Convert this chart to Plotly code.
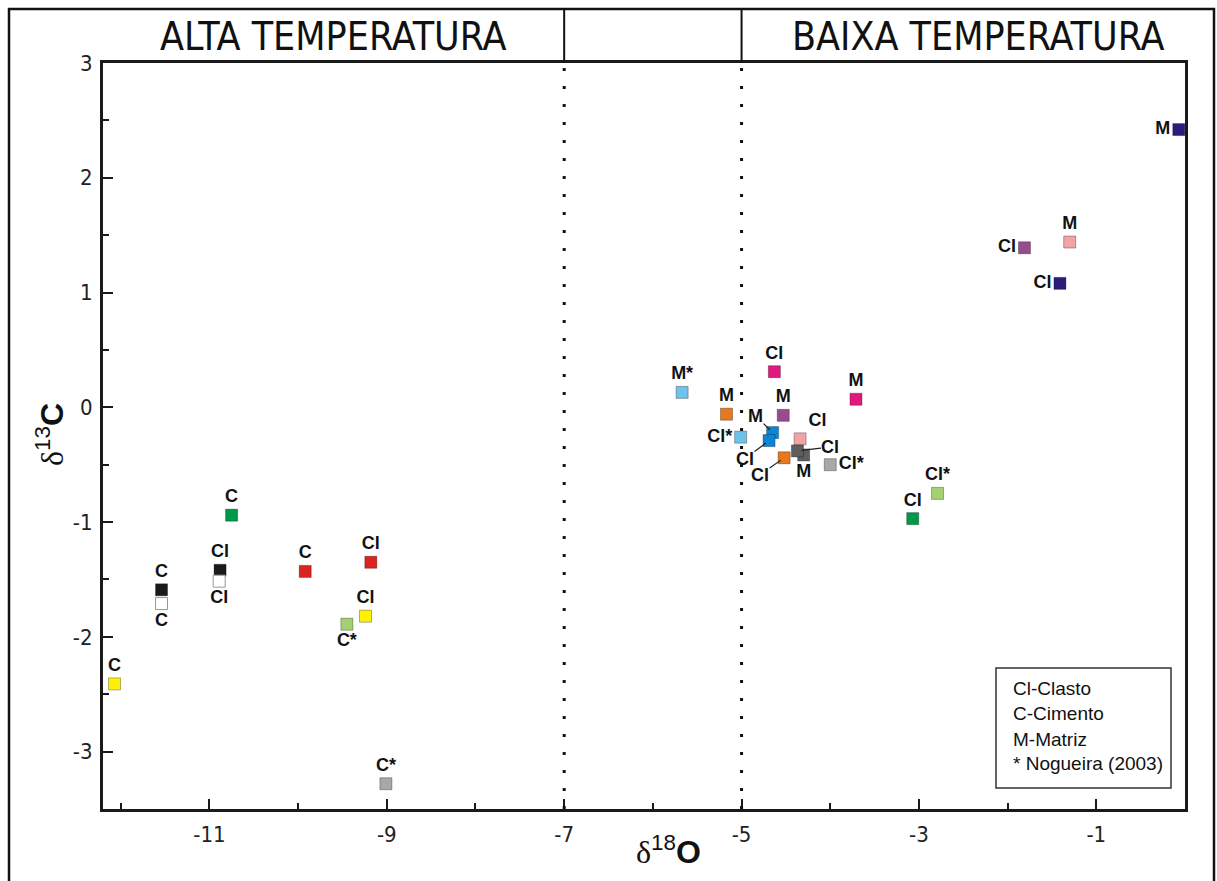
import plotly.graph_objects as go

# Isotope data: delta 18O (x) and delta 13C (y) per sample
d18O = [-12.07, -11.54, -11.54, -10.88, -10.89, -10.75, -9.92, -9.18, -9.24, -9.45, -9.01,
        -5.67, -4.63, -5.17, -4.53, -3.71, -5.01, -4.65, -4.69, -4.34, -4.37, -4.30, -4.52, -4.00,
        -2.79, -3.07, -1.81, -1.30, -1.41, -0.07]
d13C = [-2.41, -1.59, -1.71, -1.42, -1.515, -0.94, -1.43, -1.35, -1.82, -1.89, -3.28,
        0.13, 0.31, -0.06, -0.07, 0.07, -0.26, -0.22, -0.29, -0.275, -0.38, -0.415, -0.44, -0.50,
        -0.75, -0.97, 1.39, 1.44, 1.08, 2.42]
sample_type = ["C", "C", "C", "Cl", "Cl", "C", "C", "Cl", "Cl", "C*", "C*",
               "M*", "Cl", "M", "M", "M", "Cl*", "M", "Cl", "Cl", "Cl", "M", "Cl", "Cl*",
               "Cl*", "Cl", "Cl", "M", "Cl", "M"]

x_ticks = [-11, -9, -7, -5, -3, -1]
x_minor = [-12, -10, -8, -6, -4, -2, 0]
y_ticks = [-3, -2, -1, 0, 1, 2, 3]
y_minor = [-2.5, -1.5, -0.5, 0.5, 1.5, 2.5]
legend_lines = ["Cl-Clasto", "C-Cimento", "M-Matriz", "* Nogueira (2003)"]
zone_titles = ["ALTA TEMPERATURA", "BAIXA TEMPERATURA"]
zone_limits = [-7, -5]

# marker styling
YEL, BLK, WHT, GRN, RED = "#fff200", "#1a1a1a", "#ffffff", "#00984a", "#d9251d"
LGR, GRY, LBL, MAG, ORG = "#a3d16f", "#a8a8a8", "#6fc2ea", "#e2177f", "#e8781e"
PUR, BLU, PNK, DGR, NAV = "#964c8e", "#0b86d4", "#f3a3a5", "#5e5e5e", "#2a1b7c"
colors = [YEL, BLK, WHT, BLK, WHT, GRN, RED, RED, YEL, LGR, GRY,
          LBL, MAG, ORG, PUR, MAG, LBL, BLU, BLU, PNK, DGR, DGR, ORG, GRY,
          LGR, GRN, PUR, PNK, NAV, NAV]
outline = ["#999999" if c == WHT else "rgba(0,0,0,0.3)" for c in colors]
text_pos = ["top center", "top center", "bottom center", "top center", "bottom center",
            "top center", "top center", "top center", "top center", "bottom center", "top center",
            "top center", "top center", "top center", "top center", "top center", "middle left",
            None, None, "top right", None, "bottom center", None, "middle right",
            "top center", "top center", "middle left", "top center", "middle left", "middle left"]
# labels joined to their marker by a short leader line (pixel offsets of the label)
leader = {17: (-17, -17), 18: (-24, 18), 20: (33, -4), 22: (-24, 17)}

# page geometry (pixels)
W, H = 1217, 881
L, R, T, B = 103, 1185, 63, 809


def px(xp):
    return (xp - L) / (R - L)


def py(yp):
    return (B - yp) / (B - T)


NARROW = "DejaVu Sans Condensed, Liberation Sans Narrow, Arial Narrow, sans-serif"
SANS = "Liberation Sans, Arial, sans-serif"
SERIF = "Liberation Serif, Times New Roman, serif"
LABEL_FONT = dict(family=SANS, size=18, color="#111111", weight="bold")
TICK_FONT = dict(family=NARROW, size=22, color="#222222")

plain = [i for i, p in enumerate(text_pos) if p is not None]
lined = [i for i, p in enumerate(text_pos) if p is None]

fig = go.Figure()
fig.add_trace(go.Scatter(
    x=[d18O[i] for i in plain], y=[d13C[i] for i in plain], mode="markers+text",
    text=[sample_type[i] for i in plain],
    textposition=[text_pos[i] for i in plain],
    textfont=LABEL_FONT,
    marker=dict(symbol="square", size=12, color=[colors[i] for i in plain],
                line=dict(color=[outline[i] for i in plain], width=1)),
    cliponaxis=False, showlegend=False, hoverinfo="x+y",
))
fig.add_trace(go.Scatter(
    x=[d18O[i] for i in lined], y=[d13C[i] for i in lined], mode="markers",
    marker=dict(symbol="square", size=12, color=[colors[i] for i in lined],
                line=dict(color=[outline[i] for i in lined], width=1)),
    cliponaxis=False, showlegend=False, hoverinfo="x+y",
))

annotations = []
for i in lined:
    ax, ay = leader[i]
    annotations.append(dict(
        x=d18O[i], y=d13C[i], xref="x", yref="y", text=sample_type[i],
        showarrow=True, arrowhead=0, arrowwidth=1.2, arrowcolor="#222222",
        ax=ax, ay=ay, standoff=4, borderpad=0, font=LABEL_FONT,
    ))

# zone titles in the header band
for title, xc in zip(zone_titles, [333, 978]):
    annotations.append(dict(
        x=px(xc), y=py(36), xref="paper", yref="paper", text=title,
        showarrow=False, xanchor="center", yanchor="middle",
        font=dict(family=NARROW, size=39, color="#111111"),
    ))

# legend text
for line, yc in zip(legend_lines, [688, 713, 739, 763]):
    annotations.append(dict(
        x=px(1011), y=py(yc), xref="paper", yref="paper", text=line,
        showarrow=False, xanchor="left", yanchor="middle",
        font=dict(family=SANS, size=19, color="#111111"),
    ))

# axis titles
annotations.append(dict(
    x=px(668), y=py(850), xref="paper", yref="paper", showarrow=False,
    text=(f"<span style='font-family:{SERIF};font-size:32px'>δ</span>"
          "<sup>18</sup><b>O</b>"),
    font=dict(family=SANS, size=32, color="#111111"),
    xanchor="center", yanchor="middle",
))
annotations.append(dict(
    x=px(50), y=py(435), xref="paper", yref="paper", showarrow=False,
    text=(f"<span style='font-family:{SERIF};font-size:32px'>δ</span>"
          "<sup>13</sup><b>C</b>"),
    font=dict(family=SANS, size=32, color="#111111"),
    textangle=-90, xanchor="center", yanchor="middle",
))

shapes = []
# outer frame
shapes.append(dict(type="rect", xref="paper", yref="paper",
                   x0=px(9), x1=px(1214), y0=py(890), y1=py(9),
                   line=dict(color="#111111", width=2.5), layer="below"))
for xv in zone_limits:
    # dotted boundary through the plot
    shapes.append(dict(type="line", xref="x", yref="paper", x0=xv, x1=xv, y0=0, y1=1,
                       line=dict(color="#111111", width=3, dash="3px,15px")))
    # solid divider in the header band
    shapes.append(dict(type="line", xref="x", yref="paper", x0=xv, x1=xv, y0=1, y1=py(9),
                       line=dict(color="#111111", width=2)))
# legend box
shapes.append(dict(type="rect", xref="paper", yref="paper",
                   x0=px(996), x1=px(1171), y0=py(788), y1=py(668),
                   line=dict(color="#333333", width=1.5)))

fig.update_layout(
    width=W, height=H, autosize=False,
    font=dict(family=NARROW, size=22, color="#222222"),
    margin=dict(l=L, r=W - R, t=T, b=H - B, pad=0),
    paper_bgcolor="white", plot_bgcolor="white",
    annotations=annotations, shapes=shapes,
)
fig.update_xaxes(
    range=[-12.2, 0], tickmode="array", tickvals=x_ticks,
    ticktext=[str(v) for v in x_ticks],
    showline=True, linecolor="#1a1a1a", linewidth=3, mirror=True,
    ticks="inside", ticklen=10, tickwidth=2, tickcolor="#1a1a1a",
    showgrid=False, zeroline=False, tickfont=TICK_FONT, ticklabelstandoff=4,
    minor=dict(tickmode="array", tickvals=x_minor, ticks="inside",
               ticklen=6, tickwidth=2, tickcolor="#1a1a1a"),
)
fig.update_yaxes(
    range=[-3.5, 3], tickmode="array", tickvals=y_ticks,
    ticktext=[str(v) for v in y_ticks],
    showline=True, linecolor="#1a1a1a", linewidth=3, mirror=True,
    ticks="inside", ticklen=10, tickwidth=2, tickcolor="#1a1a1a",
    showgrid=False, zeroline=False, tickfont=TICK_FONT, ticklabelstandoff=3,
    minor=dict(tickmode="array", tickvals=y_minor, ticks="inside",
               ticklen=6, tickwidth=2, tickcolor="#1a1a1a"),
)

fig.write_html("out.html")
